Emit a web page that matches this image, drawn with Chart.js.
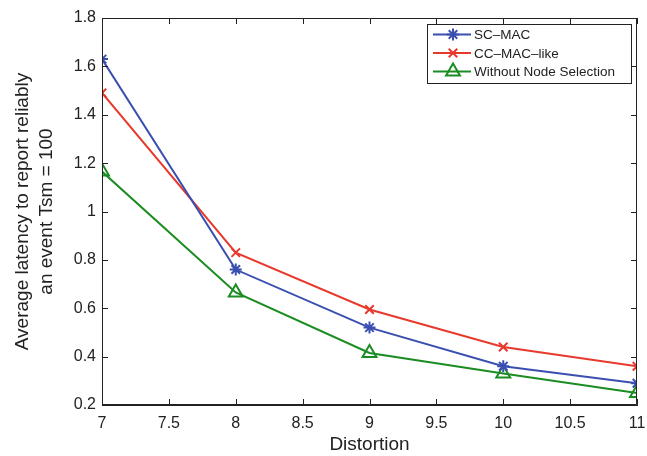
<!DOCTYPE html>
<html>
<head>
<meta charset="utf-8">
<script src="https://cdn.jsdelivr.net/npm/chart.js@4.4.1/dist/chart.umd.min.js"></script>
<style>
html,body{margin:0;padding:0;background:#fff;}
#wrap{width:647px;height:456px;position:relative;}
</style>
</head>
<body>
<div id="wrap"><canvas id="c" width="647" height="456"></canvas></div>
<script>
const distortion = [7, 8, 9, 10, 11];
const scMac = [1.63, 0.76, 0.52, 0.36, 0.29];
const ccMacLike = [1.49, 0.83, 0.595, 0.44, 0.36];
const withoutNodeSelection = [1.165, 0.665, 0.415, 0.33, 0.25];
const seriesNames = ['SC\u2013MAC', 'CC\u2013MAC\u2013like', 'Without Node Selection'];
const xTicks = [7, 7.5, 8, 8.5, 9, 9.5, 10, 10.5, 11];
const yTicks = [0.2, 0.4, 0.6, 0.8, 1, 1.2, 1.4, 1.6, 1.8];

const BLUE = '#3a4fb0', RED = '#e8392d', GREEN = '#1b8c22';
const FONT = "'Liberation Sans', Arial, Helvetica, sans-serif";

function pts(arr){ return distortion.map((x,i)=>({x:x,y:arr[i]})); }

const innerTicks = {
  id:'innerTicks',
  afterDraw(chart){
    const {ctx, chartArea:a, scales:{x,y}} = chart;
    ctx.save();
    ctx.strokeStyle = '#222';
    ctx.lineWidth = 1;
    ctx.beginPath();
    ctx.rect(a.left+0.5, a.top+0.5, a.right-a.left-1, a.bottom-a.top-1);
    ctx.stroke();
    const L = 6;
    ctx.beginPath();
    xTicks.forEach(v=>{
      const px = Math.round(x.getPixelForValue(v))+0.5;
      ctx.moveTo(px, a.bottom); ctx.lineTo(px, a.bottom-L);
      ctx.moveTo(px, a.top); ctx.lineTo(px, a.top+L);
    });
    yTicks.forEach(v=>{
      const py = Math.round(y.getPixelForValue(v))+0.5;
      ctx.moveTo(a.left, py); ctx.lineTo(a.left+L, py);
      ctx.moveTo(a.right, py); ctx.lineTo(a.right-L, py);
    });
    ctx.stroke();
    ctx.restore();
  }
};

const boxLegend = {
  id:'boxLegend',
  afterDraw(chart){
    const ctx = chart.ctx;
    const bx=427.5, by=24.5, bw=204, bh=59;
    ctx.save();
    ctx.fillStyle='#fff';
    ctx.fillRect(bx,by,bw,bh);
    ctx.strokeStyle='#222'; ctx.lineWidth=1;
    ctx.strokeRect(bx,by,bw,bh);
    ctx.font = "13.5px " + FONT;
    ctx.textBaseline='middle';
    chart.data.datasets.forEach((ds,i)=>{
      const yy = 34.5 + i*18.5;
      ctx.strokeStyle = ds.borderColor; ctx.lineWidth = 2;
      ctx.beginPath(); ctx.moveTo(433,yy); ctx.lineTo(471,yy); ctx.stroke();
      ctx.strokeStyle = ds.borderColor; ctx.fillStyle = 'rgba(0,0,0,0)';
      ctx.lineWidth = ds.pointBorderWidth;
      Chart.helpers.drawPoint(ctx, {pointStyle: ds.pointStyle, radius: ds.pointRadius, borderWidth: ds.pointBorderWidth, rotation:0}, 453, yy);
      ctx.fillStyle='#222';
      ctx.fillText(ds.label, 474, yy+1);
    });
    ctx.restore();
  }
};

new Chart(document.getElementById('c'), {
  type:'line',
  data:{
    datasets:[
      {label:seriesNames[0], data:pts(scMac), borderColor:BLUE, backgroundColor:BLUE, borderWidth:2,
       pointStyle:'star', pointRadius:6, pointBorderWidth:2, pointBackgroundColor:BLUE, pointBorderColor:BLUE},
      {label:seriesNames[1], data:pts(ccMacLike), borderColor:RED, backgroundColor:RED, borderWidth:2,
       pointStyle:'crossRot', pointRadius:6, pointBorderWidth:2, pointBackgroundColor:RED, pointBorderColor:RED},
      {label:seriesNames[2], data:pts(withoutNodeSelection), borderColor:GREEN, backgroundColor:'rgba(0,0,0,0)', borderWidth:2,
       pointStyle:'triangle', pointRadius:8, pointBorderWidth:2, pointBackgroundColor:'rgba(255,255,255,0)', pointBorderColor:GREEN}
    ]
  },
  options:{
    responsive:false, animation:false, devicePixelRatio:1,
    layout:{padding:{top:18,right:9,left:0,bottom:0}},
    plugins:{legend:{display:false}, tooltip:{enabled:false}},
    elements:{line:{tension:0}},
    scales:{
      x:{type:'linear', min:7, max:11,
        afterBuildTicks(s){ s.ticks = xTicks.map(v=>({value:v})); },
        afterFit(s){ s.height = 51; s.paddingLeft = 0; s.paddingRight = 0; },
        grid:{display:true, drawOnChartArea:false, drawTicks:false},
        border:{display:true, color:'#222'},
        ticks:{padding:9, color:'#222', font:{family:FONT, size:16}, maxRotation:0, autoSkip:false,
          callback:(v)=>String(v)},
        title:{display:true, text:'Distortion', color:'#222', font:{family:FONT, size:19}, padding:{top:0,bottom:0}}
      },
      y:{type:'linear', min:0.2, max:1.8,
        afterBuildTicks(s){ s.ticks = yTicks.map(v=>({value:v})); },
        afterFit(s){ s.width = 102; s.paddingTop = 0; s.paddingBottom = 0; },
        grid:{display:true, drawOnChartArea:false, drawTicks:false},
        border:{display:true, color:'#222'},
        ticks:{padding:6, color:'#222', font:{family:FONT, size:16}, autoSkip:false,
          callback:(v)=>String(Math.round(v*10)/10)},
        title:{display:true, text:['Average latency to report reliably','an event Tsm = 100'], color:'#222',
          font:{family:FONT, size:19, lineHeight:1.3}, padding:{top:10,bottom:4}}
      }
    }
  },
  plugins:[innerTicks, boxLegend]
});
</script>
</body>
</html>
